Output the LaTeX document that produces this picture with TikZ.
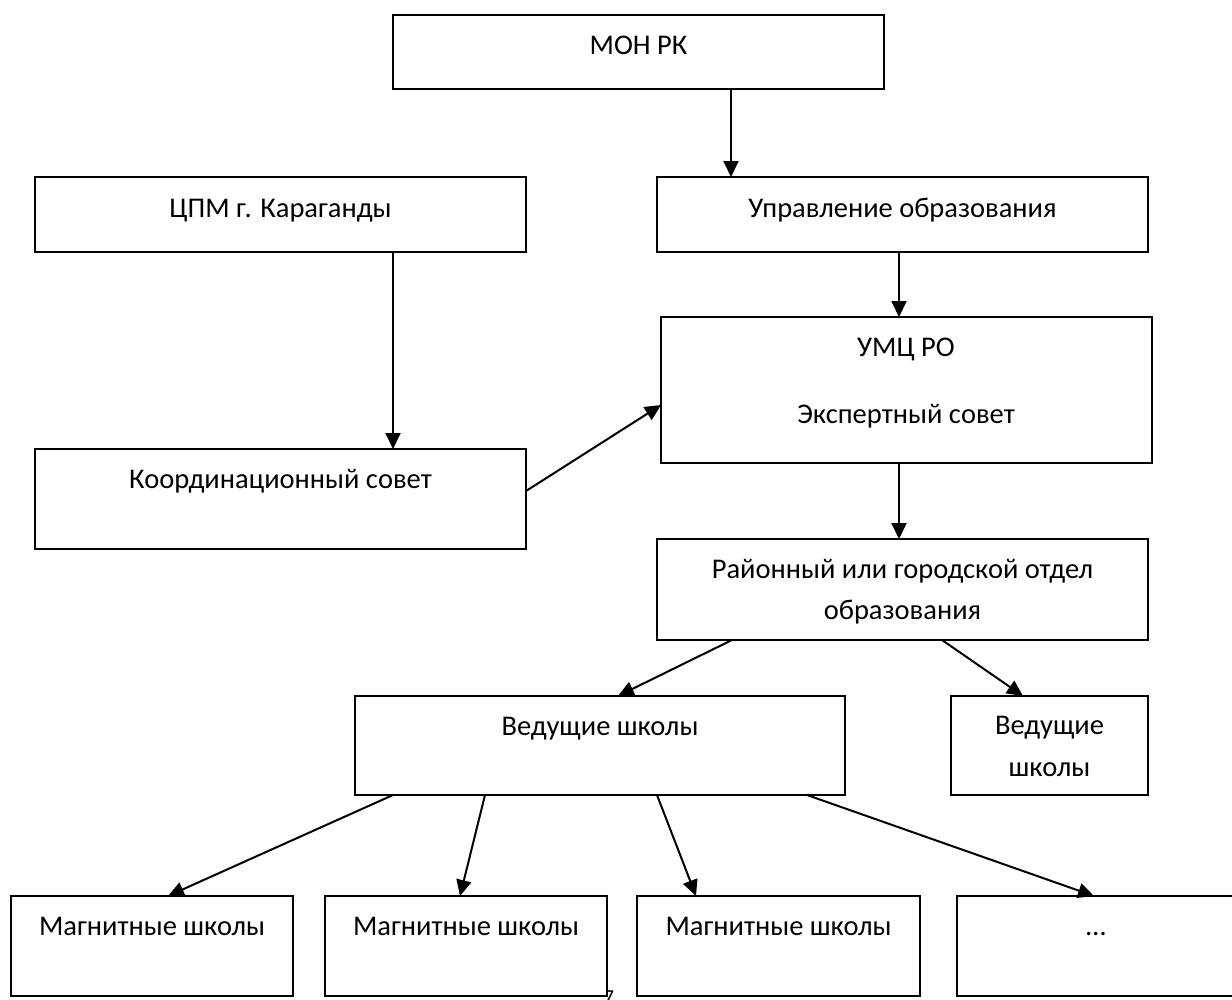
\documentclass[tikz,border=0pt]{standalone}
\usepackage{fontspec}
\setmainfont{Carlito}
\usetikzlibrary{arrows.meta,calc}
\begin{document}
\begin{tikzpicture}[x=1pt,y=-1pt,
  box/.style={draw,line width=2pt,rectangle,anchor=north west,inner sep=0pt,outer sep=0pt},
  lbl/.style={anchor=base,inner sep=0pt,font=\fontsize{28.5}{42}\selectfont},
  arr/.style={line width=2pt,-{Triangle[length=16pt,width=15pt]}}]
\useasboundingbox (0,0) rectangle (1232,999);
% boxes
\node[box,minimum width=491pt,minimum height=74pt] (mon) at (393,15) {};
\node[box,minimum width=491pt,minimum height=75pt] (cpm) at (35,177) {};
\node[box,minimum width=491pt,minimum height=75pt] (upr) at (657,177) {};
\node[box,minimum width=491pt,minimum height=146pt] (umc) at (661,317) {};
\node[box,minimum width=491pt,minimum height=100pt] (koord) at (35,449) {};
\node[box,minimum width=491pt,minimum height=101pt] (rdo) at (657,539) {};
\node[box,minimum width=490pt,minimum height=99pt] (ved) at (355,696) {};
\node[box,minimum width=197pt,minimum height=99pt] (veds) at (951,696) {};
\node[box,minimum width=282pt,minimum height=100pt] (m1) at (11,896) {};
\node[box,minimum width=282pt,minimum height=100pt] (m2) at (325,896) {};
\node[box,minimum width=283pt,minimum height=100pt] (m3) at (637,896) {};
\node[box,minimum width=290pt,minimum height=100pt] (m4) at (957,896) {};
% texts
\node[lbl] (tmon) at (638.5,54) {МОН РК};
\node[lbl] (tcpm) at (280.5,217) {ЦПМ г. Караганды};
\node[lbl] (tupr) at (902.5,217) {Управление образования};
\node[lbl] (tumc) at (906,356) {УМЦ РО};
\node[lbl] (texp) at (906,423) {Экспертный совет};
\node[lbl] (tkoord) at (280.5,488) {Координационный совет};
\node[lbl] (trdoa) at (902.5,578) {Районный или городской отдел};
\node[lbl] (trdob) at (902.5,619) {образования};
\node[lbl] (tved) at (600,735) {Ведущие школы};
\node[lbl] (tvedsa) at (1049.5,734) {Ведущие};
\node[lbl] (tvedsb) at (1049.5,776) {школы};
\node[lbl] (tm1) at (152,935) {Магнитные школы};
\node[lbl] (tm2) at (466,935) {Магнитные школы};
\node[lbl] (tm3) at (778.5,935) {Магнитные школы};
\node[lbl] (tm4) at (1096,935) {…};
\node[anchor=base,inner sep=0pt,font=\fontsize{15}{18}\selectfont\bfseries] (pg) at (610,1000) {7};
% arrows
\draw[arr] ($(mon.south west)+(338,0)$) -- ($(upr.north west)+(74,0)$);
\draw[arr] ($(cpm.south west)+(358,0)$) -- ($(koord.north west)+(358,0)$);
\draw[arr] ($(upr.south west)+(242,0)$) -- ($(umc.north west)+(238,0)$);
\draw[arr] ($(koord.north east)+(0,42)$) -- ($(umc.north west)+(0,88)$);
\draw[arr] ($(umc.south west)+(238,0)$) -- ($(rdo.north west)+(242,0)$);
\draw[arr] ($(rdo.south west)+(75,0)$) -- ($(ved.north west)+(263,0)$);
\draw[arr] ($(rdo.south west)+(285,0)$) -- ($(veds.north west)+(72,0)$);
\draw[arr] ($(ved.south west)+(38,0)$) -- ($(m1.north west)+(157,0)$);
\draw[arr] ($(ved.south west)+(130,0)$) -- ($(m2.north west)+(135,0)$);
\draw[arr] ($(ved.south west)+(302,0)$) -- ($(m3.north west)+(59,0)$);
\draw[arr] ($(ved.south west)+(452,0)$) -- ($(m4.north west)+(137,0)$);
\end{tikzpicture}
\end{document}
